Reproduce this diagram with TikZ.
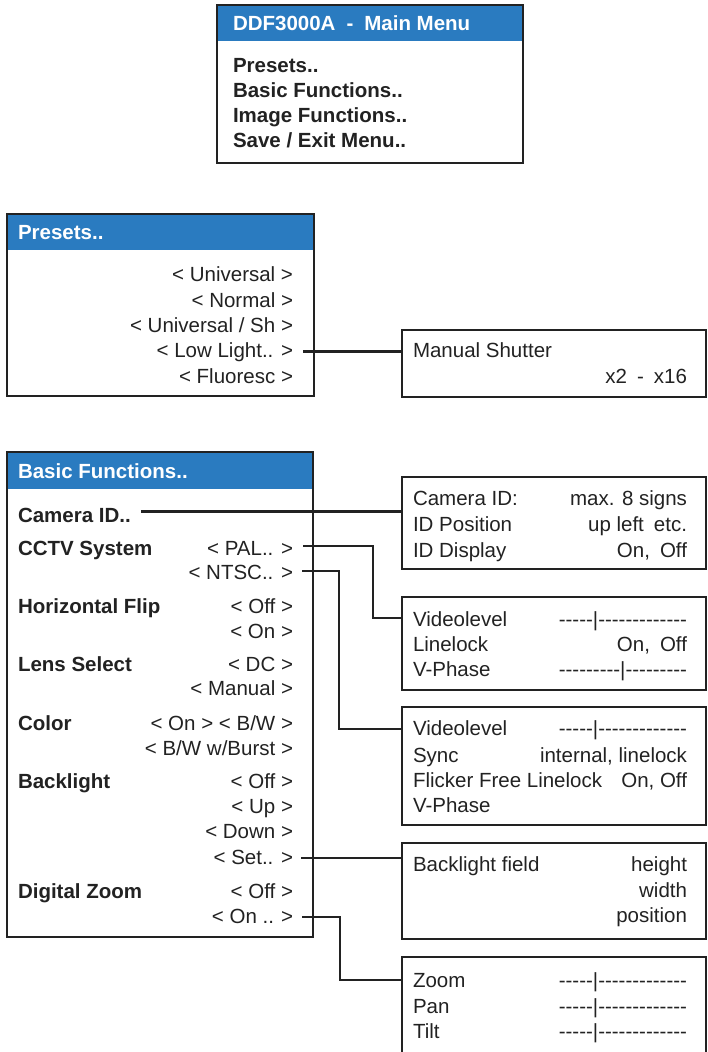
\documentclass[tikz,border=0pt]{standalone}
\usepackage{fontspec}
\setmainfont{Liberation Sans}[Ligatures=TeXOff]
\usetikzlibrary{backgrounds}
\definecolor{hdrblue}{HTML}{2A7BC0}
\definecolor{ink}{HTML}{222222}
\newcommand\dsh[1]{\foreach\k in {1,...,#1}{-\kern0pt}}
\begin{document}
\begin{tikzpicture}[x=1pt,y=-1pt,
  font=\fontsize{20.5}{24}\selectfont,
  box/.style={draw=ink, line width=2.4pt, inner sep=0pt, outer sep=0pt, anchor=north west},
  hdr/.style={fill=hdrblue},
  lt/.style={anchor=base west, inner sep=0pt, outer sep=0pt, text=ink},
  rt/.style={anchor=base east, inner sep=0pt, outer sep=0pt, text=ink},
  bl/.style={lt, font=\fontsize{20.5}{24}\selectfont\bfseries},
  wt/.style={bl, text=white},
  conn/.style={draw=ink, line width=2.2pt}]
\useasboundingbox (0,0) rectangle (707,1052);
\clip (0,0) rectangle (707,1052);

% boxes
\node[box, minimum width=306pt, minimum height=158pt] (main) at (217,5) {};
\node[box, minimum width=307pt, minimum height=182pt] (presets) at (7,214) {};
\node[box, minimum width=306pt, minimum height=485pt] (basic) at (7,452) {};
\node[box, minimum width=304pt, minimum height=67pt] (shutter) at (402,330) {};
\node[box, minimum width=304pt, minimum height=92pt] (cidbox) at (402,477) {};
\node[box, minimum width=304pt, minimum height=93pt] (palbox) at (402,597) {};
\node[box, minimum width=304pt, minimum height=118pt] (ntscbox) at (402,707) {};
\node[box, minimum width=304pt, minimum height=96pt] (blbox) at (402,843) {};
\node[box, minimum width=304pt, minimum height=120pt] (zoombox) at (402,957) {};

\begin{scope}[on background layer]
  \fill[hdr] (main.north west) rectangle ([yshift=-36pt]main.north east);
  \fill[hdr] (presets.north west) rectangle ([yshift=-36pt]presets.north east);
  \fill[hdr] (basic.north west) rectangle ([yshift=-37pt]basic.north east);
\end{scope}

% main menu
\node[wt] (mtitle) at (233,30) {DDF3000A\hspace{11pt}-\hspace{11pt}Main Menu};
\node[bl] (m1) at (233,72) {Presets..};
\node[bl] (m2) at (233,97) {Basic Functions..};
\node[bl] (m3) at (233,122) {Image Functions..};
\node[bl] (m4) at (233,147) {Save / Exit Menu..};

% presets
\node[wt] (ptitle) at (18,239) {Presets..};
\node[rt] (p1) at (293,281) {< Universal >};
\node[rt] (p2) at (293,307) {< Normal >};
\node[rt] (p3) at (293,332) {< Universal / Sh >};
\node[rt] (p4) at (293,357) {< Low Light.. >};
\node[rt] (p5) at (293,383) {< Fluoresc >};

\node[lt] (ms1) at (413,357) {Manual Shutter};
\node[rt] (ms2) at (687,383) {x2\hspace{10pt}-\hspace{10pt}x16};

% basic functions
\node[wt] (btitle) at (18,478) {Basic Functions..};
\node[bl] (camid) at (18,522) {Camera ID..};
\node[bl] (cctv) at (18,555) {CCTV System};
\node[bl] (hflip) at (18,613) {Horizontal Flip};
\node[bl] (lens) at (18,671) {Lens Select};
\node[bl] (color) at (18,730) {Color};
\node[bl] (back) at (18,788) {Backlight};
\node[bl] (dzoom) at (18,898) {Digital Zoom};

\node[rt] (pal) at (293,555) {< PAL.. >};
\node[rt] (ntsc) at (293,579) {< NTSC.. >};
\node[rt] (hoff) at (293,613) {< Off >};
\node[rt] (hon) at (293,638) {< On >};
\node[rt] (dc) at (293,671) {< DC >};
\node[rt] (man) at (293,695) {< Manual >};
\node[rt] (con) at (293,730) {< On > < B/W >};
\node[rt] (cbw) at (293,755) {< B/W w/Burst >};
\node[rt] (boff) at (293,788) {< Off >};
\node[rt] (bup) at (293,813) {< Up >};
\node[rt] (bdown) at (293,838) {< Down >};
\node[rt] (bset) at (293,864) {< Set.. >};
\node[rt] (zoff) at (293,898) {< Off >};
\node[rt] (zon) at (293,923) {< On ..\hspace{7pt}>};

% camera id box
\node[lt] (cid1) at (413,505) {Camera ID:};
\node[lt] (cid2) at (413,531) {ID Position};
\node[lt] (cid3) at (413,557) {ID Display};
\node[rt] (cidv1) at (687,505) {max. 8 signs};
\node[rt] (cidv2) at (687,531) {up left\hspace{10pt}etc.};
\node[rt] (cidv3) at (687,557) {On,\hspace{10pt}Off};

% PAL box
\node[lt] (pvl) at (413,626) {Videolevel};
\node[lt] (pll) at (413,651) {Linelock};
\node[lt] (pvp) at (413,676) {V-Phase};
\node[rt] (pvlv) at (687,626) {\dsh{5}|\dsh{13}};
\node[rt] (pllv) at (687,651) {On,\hspace{10pt}Off};
\node[rt] (pvpv) at (687,676) {\dsh{9}|\dsh{9}};

% NTSC box
\node[lt] (nvl) at (413,735) {Videolevel};
\node[lt] (nsy) at (413,762) {Sync};
\node[lt] (nff) at (413,787) {Flicker Free Linelock};
\node[lt] (nvp) at (413,812) {V-Phase};
\node[rt] (nvlv) at (687,735) {\dsh{5}|\dsh{13}};
\node[rt] (nsyv) at (687,762) {internal, linelock};
\node[rt] (nffv) at (687,787) {On, Off};

% backlight box
\node[lt] (blf) at (413,871) {Backlight field};
\node[rt] (blh) at (687,871) {height};
\node[rt] (blw) at (687,897) {width};
\node[rt] (blp) at (687,922) {position};

% zoom box
\node[lt] (zz) at (413,987) {Zoom};
\node[lt] (zp) at (413,1013) {Pan};
\node[lt] (zt) at (413,1038) {Tilt};
\node[rt] (zzv) at (687,987) {\dsh{5}|\dsh{13}};
\node[rt] (zpv) at (687,1013) {\dsh{5}|\dsh{13}};
\node[rt] (ztv) at (687,1038) {\dsh{5}|\dsh{13}};

% connectors
\draw[conn] ([xshift=10pt,yshift=5.5pt]p4.base east) -- ([yshift=5.5pt]p4.base -| shutter.west);
\draw[conn] ([xshift=10pt,yshift=10.5pt]camid.base east) -- ([yshift=10.5pt]camid.base -| cidbox.west);
\draw[conn] ([xshift=10pt,yshift=9pt]pal.base east) -- ([xshift=80pt,yshift=9pt]pal.base east) |- ([yshift=8pt]pvl.base -| palbox.west);
\draw[conn] ([xshift=9pt,yshift=8pt]ntsc.base east) -- ([xshift=46pt,yshift=8pt]ntsc.base east) |- ([yshift=6pt]nvl.base -| ntscbox.west);
\draw[conn] ([xshift=8pt,yshift=6pt]bset.base east) -- ([yshift=6pt]bset.base -| blbox.west);
\draw[conn] ([xshift=9pt,yshift=6pt]zon.base east) -- ([xshift=47pt,yshift=6pt]zon.base east) |- ([yshift=7pt]zz.base -| zoombox.west);
\end{tikzpicture}
\end{document}
